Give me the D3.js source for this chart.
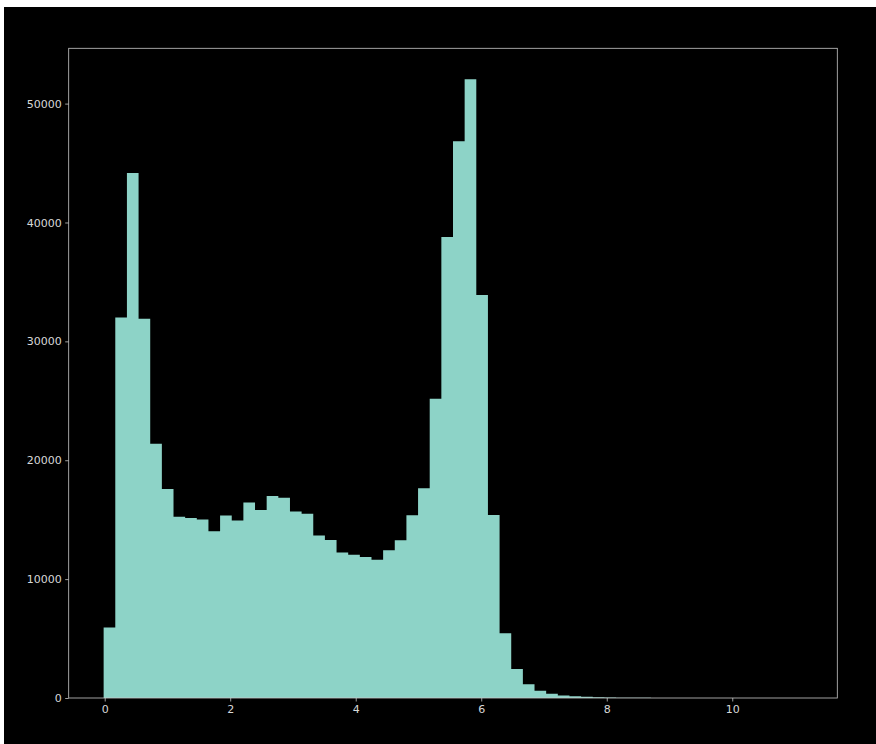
<!DOCTYPE html>
<html>
<head>
<meta charset="utf-8">
<script src="https://cdn.jsdelivr.net/npm/d3@7"></script>
<style>
  html, body { margin: 0; padding: 0; background: #fff; }
  svg { display: block; }
  .tick text { font-family: "DejaVu Sans", sans-serif; font-size: 11px; fill: #d8d8d8; }
</style>
</head>
<body>
<div id="chart"></div>
<script>
// histogram: 60 equal bins between the data min and max
const binStart = -0.017;
const binEnd = 11.117;
const counts = [
  5920, 32000, 44170, 31900, 21380, 17590, 15240, 15150, 15010, 14030,
  15350, 14930, 16440, 15820, 17000, 16850, 15680, 15490, 13660, 13300,
  12230, 12060, 11870, 11620, 12430, 13270, 15380, 17650, 25170, 38780,
  46830, 52050, 33900, 15400, 5440, 2440, 1150, 615, 365, 200,
  140, 95, 65, 45, 30, 20, 14, 10, 8, 6,
  5, 4, 3, 2, 2, 1, 1, 1, 1, 1
];
const xTicks = [0, 2, 4, 6, 8, 10];
const yTicks = [0, 10000, 20000, 30000, 40000, 50000];

const width = 876, height = 744;
const frame = { left: 68.7, right: 837.3, top: 48.3, bottom: 698 };

const svg = d3.select("#chart").append("svg")
  .attr("width", width)
  .attr("height", height);

// figure background (offset a few px like the screenshot)
svg.append("rect")
  .attr("x", 4).attr("y", 7)
  .attr("width", width - 4).attr("height", height - 7)
  .attr("fill", "#000");

const binW = (binEnd - binStart) / counts.length;
// bin left edges plus the closing right edge, for a stepped area
const steps = counts.map((c, i) => ({ x: binStart + i * binW, n: c }));
steps.push({ x: binEnd, n: counts[counts.length - 1] });

const span = binEnd - binStart;
const x = d3.scaleLinear()
  .domain([binStart - 0.05 * span, binEnd + 0.05 * span])
  .range([frame.left, frame.right]);

const y = d3.scaleLinear()
  .domain([0, d3.max(counts) * 1.05])
  .range([frame.bottom, frame.top]);

const area = d3.area()
  .curve(d3.curveStepAfter)
  .x(d => x(d.x))
  .y0(y(0))
  .y1(d => y(d.n));

svg.append("path")
  .datum(steps)
  .attr("d", area)
  .attr("fill", "#8dd3c7");

// axes
const xAxis = d3.axisBottom(x).tickValues(xTicks).tickSize(3.5).tickPadding(3.5).tickFormat(d3.format("d"));
const yAxis = d3.axisLeft(y).tickValues(yTicks).tickSize(3.5).tickPadding(3.5).tickFormat(d3.format("d"));

const gx = svg.append("g")
  .attr("transform", `translate(0,${frame.bottom})`)
  .call(xAxis);
const gy = svg.append("g")
  .attr("transform", `translate(${frame.left},0)`)
  .call(yAxis);

[gx, gy].forEach(g => {
  g.select(".domain").remove();
  g.selectAll(".tick line").attr("stroke", "#c8c8c8").attr("stroke-width", 0.8);
});

// axes frame
svg.append("rect")
  .attr("x", frame.left).attr("y", frame.top)
  .attr("width", frame.right - frame.left)
  .attr("height", frame.bottom - frame.top)
  .attr("fill", "none")
  .attr("stroke", "#c8c8c8")
  .attr("stroke-width", 0.8);
</script>
</body>
</html>
